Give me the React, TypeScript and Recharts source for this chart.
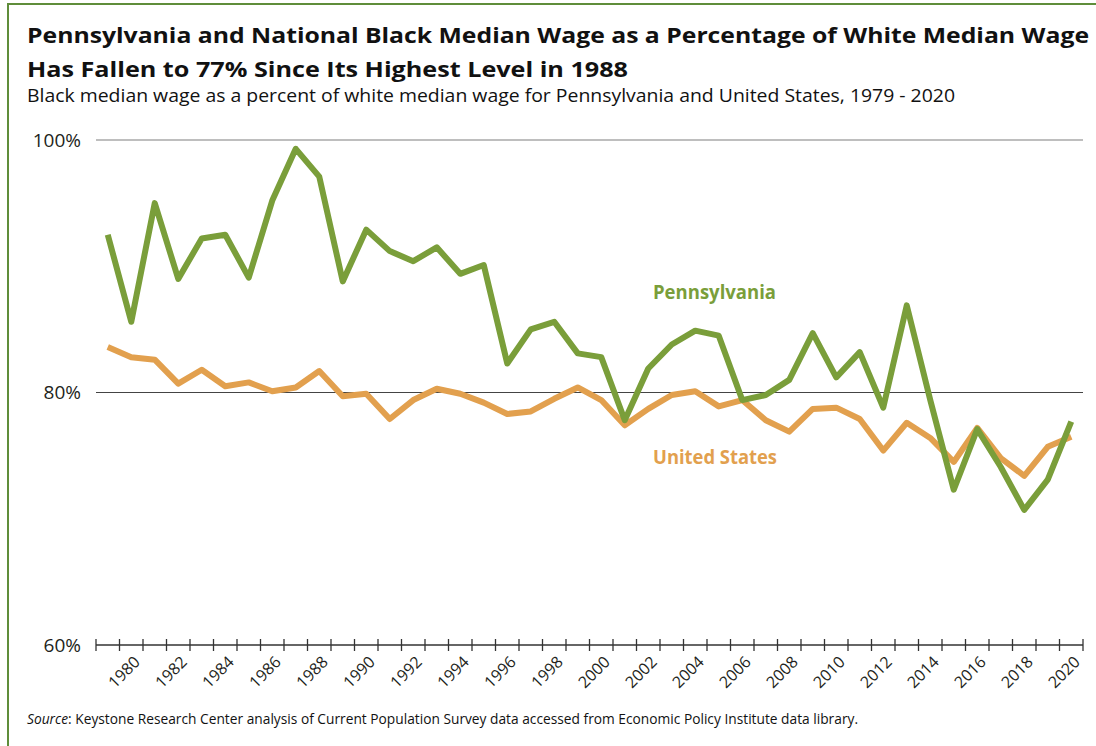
import { Line, LineChart, ReferenceLine, XAxis, YAxis } from "recharts";

const years = [
	1979, 1980, 1981, 1982, 1983, 1984, 1985, 1986, 1987, 1988, 1989, 1990, 1991,
	1992, 1993, 1994, 1995, 1996, 1997, 1998, 1999, 2000, 2001, 2002, 2003, 2004,
	2005, 2006, 2007, 2008, 2009, 2010, 2011, 2012, 2013, 2014, 2015, 2016, 2017,
	2018, 2019, 2020,
];

const pennsylvania = [
	92.5, 85.6, 95.0, 89.0, 92.2, 92.5, 89.1, 95.2, 99.3, 97.1, 88.8, 92.9, 91.2,
	90.4, 91.5, 89.4, 90.1, 82.3, 85.0, 85.6, 83.1, 82.8, 77.8, 81.9, 83.8, 84.9,
	84.5, 79.4, 79.8, 81.0, 84.7, 81.2, 83.2, 78.8, 86.9, 79.4, 72.3, 77.1, 74.1,
	70.7, 73.1, 77.7,
];

const unitedStates = [
	83.6, 82.8, 82.6, 80.7, 81.8, 80.5, 80.8, 80.1, 80.4, 81.7, 79.7, 79.9, 77.9,
	79.4, 80.3, 79.9, 79.2, 78.3, 78.5, 79.5, 80.4, 79.4, 77.4, 78.7, 79.8, 80.1,
	78.9, 79.4, 77.8, 76.9, 78.7, 78.8, 77.9, 75.4, 77.6, 76.4, 74.5, 77.2, 74.8,
	73.4, 75.7, 76.5,
];

// tick marks sit between years, one per boundary
const boundaries = [
	1978.5, 1979.5, 1980.5, 1981.5, 1982.5, 1983.5, 1984.5, 1985.5, 1986.5,
	1987.5, 1988.5, 1989.5, 1990.5, 1991.5, 1992.5, 1993.5, 1994.5, 1995.5,
	1996.5, 1997.5, 1998.5, 1999.5, 2000.5, 2001.5, 2002.5, 2003.5, 2004.5,
	2005.5, 2006.5, 2007.5, 2008.5, 2009.5, 2010.5, 2011.5, 2012.5, 2013.5,
	2014.5, 2015.5, 2016.5, 2017.5, 2018.5, 2019.5, 2020.5,
];

const yTicks = [60, 80, 100];

const data = years.map((year, i) => ({
	year,
	pa: pennsylvania[i],
	us: unitedStates[i],
}));

const GREEN = "#7a9e3a";
const ORANGE = "#e2a04e";
const FONT = '"Open Sans", sans-serif';

const YearTick = (props: any) => {
	const { x, y, payload } = props;
	const year = payload.value - 0.5;
	const showLabel = year >= 1980 && year % 2 === 0;
	return (
		<g>
			<line x1={x} x2={x} y1={y - 6} y2={y + 6} stroke="#333" strokeWidth={1.3} />
			{showLabel && (
				<text
					x={x - 2}
					y={y + 18}
					textAnchor="end"
					fontSize={16}
					fill="#231f20"
					fontFamily={FONT}
					transform={`rotate(-45 ${x - 2} ${y + 18})`}
				>
					{year}
				</text>
			)}
		</g>
	);
};

const App = () => {
	return (
		<div
			style={{
				position: "absolute",
				left: 0,
				top: 0,
				width: 1096,
				height: 746,
				overflow: "hidden",
				background: "#fff",
				fontFamily: FONT,
			}}
		>
			<div
				style={{
					position: "absolute",
					left: 7,
					top: 3,
					width: 1200,
					height: 900,
					borderLeft: `2px solid ${"#5f8d3a"}`,
					borderTop: `2px solid ${"#5f8d3a"}`,
				}}
			/>
			<LineChart
				width={1096}
				height={746}
				data={data}
				margin={{ top: 140, right: 13, bottom: 41, left: 0 }}
				style={{ position: "absolute", left: 0, top: 0 }}
			>
				<XAxis
					dataKey="year"
					type="number"
					domain={[1978.5, 2020.5]}
					ticks={boundaries}
					interval={0}
					tickLine={false}
					tickSize={0}
					tickMargin={0}
					axisLine={{ stroke: "#333", strokeWidth: 1.3 }}
					tick={<YearTick />}
					height={60}
				/>
				<YAxis
					domain={[60, 100]}
					ticks={yTicks}
					axisLine={false}
					tickLine={false}
					tickSize={0}
					tickMargin={15}
					width={96}
					tickFormatter={(v: number) => `${v}%`}
					tick={{ fontSize: 19, fill: "#231f20", fontFamily: FONT }}
				/>
				<ReferenceLine y={100} stroke="#a8a8a8" strokeWidth={1.5} />
				<ReferenceLine y={80} stroke="#444" strokeWidth={1} />
				<Line
					dataKey="us"
					stroke={ORANGE}
					strokeWidth={6}
					dot={false}
					strokeLinejoin="round"
					isAnimationActive={false}
				/>
				<Line
					dataKey="pa"
					stroke={GREEN}
					strokeWidth={6}
					dot={false}
					strokeLinejoin="round"
					isAnimationActive={false}
				/>
			</LineChart>
			<svg
				width={1096}
				height={746}
				style={{ position: "absolute", left: 0, top: 0, pointerEvents: "none" }}
			>
				<text
					x={27}
					y={43}
					fontSize={22}
					fontWeight={700}
					fill="#111"
					textLength={1062}
					lengthAdjust="spacingAndGlyphs"
				>
					Pennsylvania and National Black Median Wage as a Percentage of White
					Median Wage
				</text>
				<text
					x={27}
					y={77}
					fontSize={22}
					fontWeight={700}
					fill="#111"
					textLength={601}
					lengthAdjust="spacingAndGlyphs"
				>
					Has Fallen to 77% Since Its Highest Level in 1988
				</text>
				<text
					x={27}
					y={102}
					fontSize={18.5}
					fill="#111"
					textLength={928}
					lengthAdjust="spacingAndGlyphs"
				>
					Black median wage as a percent of white median wage for Pennsylvania
					and United States, 1979 - 2020
				</text>
				<text
					x={653}
					y={299}
					fontSize={19}
					fontWeight={700}
					fill={GREEN}
					textLength={123}
					lengthAdjust="spacingAndGlyphs"
				>
					Pennsylvania
				</text>
				<text
					x={653}
					y={464}
					fontSize={19}
					fontWeight={700}
					fill={ORANGE}
					textLength={124}
					lengthAdjust="spacingAndGlyphs"
				>
					United States
				</text>
				<text
					x={27}
					y={724}
					fontSize={15}
					fill="#111"
					textLength={831}
					lengthAdjust="spacingAndGlyphs"
				>
					<tspan fontStyle="italic">Source</tspan>: Keystone Research Center
					analysis of Current Population Survey data accessed from Economic
					Policy Institute data library.
				</text>
			</svg>
		</div>
	);
};

export default App;
